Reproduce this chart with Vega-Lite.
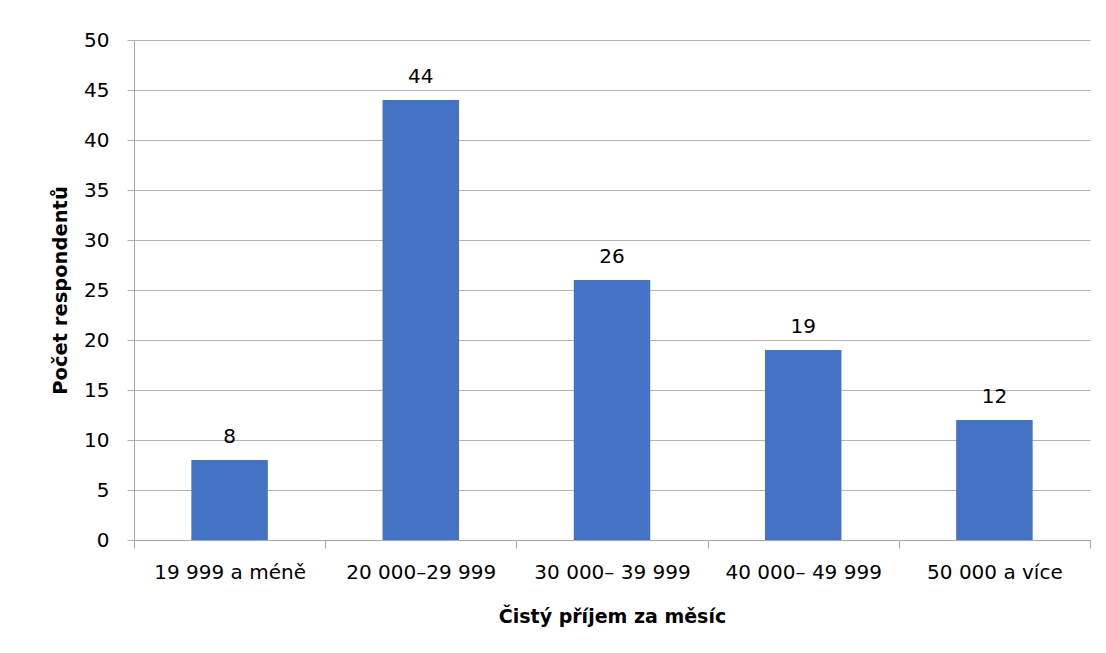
{
  "$schema": "https://vega.github.io/schema/vega-lite/v6.json",
  "autosize": "none",
  "width": 956,
  "height": 500,
  "padding": {"left": 134, "top": 40, "right": 16, "bottom": 113},
  "background": "white",
  "config": {
    "view": {"stroke": null},
    "font": "DejaVu Sans",
    "axis": {"labelFont": "DejaVu Sans", "titleFont": "DejaVu Sans", "labelColor": "#000000", "titleColor": "#000000"}
  },
  "data": {
    "values": [
      {"kategorie": "19 999 a méně", "pocet": 8},
      {"kategorie": "20 000–29 999", "pocet": 44},
      {"kategorie": "30 000– 39 999", "pocet": 26},
      {"kategorie": "40 000– 49 999", "pocet": 19},
      {"kategorie": "50 000 a více", "pocet": 12}
    ]
  },
  "encoding": {
    "x": {
      "field": "kategorie",
      "type": "nominal",
      "sort": null,
      "scale": {"paddingInner": 0, "paddingOuter": 0},
      "axis": {
        "title": "Čistý příjem za měsíc",
        "titleFontSize": 19,
        "titleFontWeight": "bold",
        "titlePadding": 25,
        "labelAngle": 0,
        "labelFontSize": 20,
        "labelPadding": 14,
        "tickBand": "extent",
        "tickSize": 8,
        "tickColor": "#a6a6a6",
        "domainColor": "#a6a6a6",
        "grid": false
      }
    },
    "y": {
      "field": "pocet",
      "type": "quantitative",
      "scale": {"domain": [0, 50], "nice": false},
      "axis": {
        "title": "Počet respondentů",
        "titleFontSize": 19.5,
        "titleFontWeight": "bold",
        "titlePadding": 13,
        "values": [0, 5, 10, 15, 20, 25, 30, 35, 40, 45, 50],
        "labelFontSize": 20,
        "labelPadding": 18,
        "tickSize": 7,
        "tickColor": "#b4b4b4",
        "gridColor": "#b4b4b4",
        "domainColor": "#a6a6a6"
      }
    }
  },
  "layer": [
    {"mark": {"type": "bar", "color": "#4472C4", "width": {"band": 0.4}}},
    {
      "mark": {"type": "text", "baseline": "bottom", "dy": -13, "fontSize": 20, "font": "DejaVu Sans", "color": "#000000"},
      "encoding": {"text": {"field": "pocet", "type": "quantitative"}}
    }
  ]
}
